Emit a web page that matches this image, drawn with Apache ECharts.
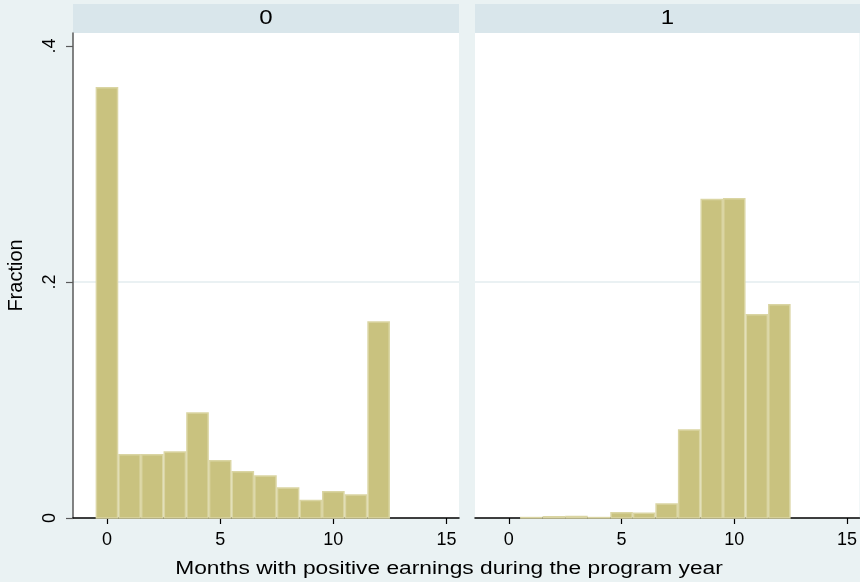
<!DOCTYPE html>
<html>
<head>
<meta charset="utf-8">
<script src="https://cdn.jsdelivr.net/npm/echarts@6/dist/echarts.min.js"></script>
<style>
  html, body { margin: 0; padding: 0; background: #EAF2F3; }
  #chart { width: 860px; height: 582px; }
</style>
</head>
<body>
<div id="chart"></div>
<script>
// Months with positive earnings (histogram bins, width 1, centred on each month)
const months = [0, 1, 2, 3, 4, 5, 6, 7, 8, 9, 10, 11, 12];
const panelNames = ['0', '1'];
// Fraction of people in each bin, per panel
const fraction0 = [0.3653, 0.0542, 0.0542, 0.0565, 0.0896, 0.0492, 0.0398, 0.0362, 0.0260, 0.0155, 0.0229, 0.0201, 0.1667];
const fraction1 = [0, 0.0010, 0.0017, 0.0020, 0.0010, 0.0051, 0.0046, 0.0125, 0.0752, 0.2706, 0.2712, 0.1729, 0.1814];
const xTicks = [0, 5, 10, 15];
const yTicks = [0, 0.2, 0.4];
const yTickLabels = ['0', '.2', '.4'];
const xTitle = 'Months with positive earnings during the program year';
const yTitle = 'Fraction';

const FONT = '"Liberation Sans", Arial, Helvetica, sans-serif';
const BAR_FILL = '#C9C27F';
const BAR_EDGE = '#DAD5A3';

const panels = [
  { left: 73, width: 386 },
  { left: 475, width: 385 }
];
const TOP = 33, BOTTOM_Y = 518, H = 582;

function yLabel(v) {
  const i = yTicks.findIndex(t => Math.abs(t - v) < 1e-9);
  return i >= 0 ? yTickLabels[i] : '';
}

// one histogram bar per bin, spanning [x - 0.5, x + 0.5]
function renderBar(params, api) {
  const x = api.value(0), y = api.value(1);
  if (!y) return null;
  const p0 = api.coord([x - 0.5, 0]);
  const p1 = api.coord([x + 0.5, y]);
  const lw = 1.5, h = lw / 2;
  return {
    type: 'rect',
    shape: { x: p0[0] + h, y: p1[1] + h, width: p1[0] - p0[0] - lw, height: p0[1] - p1[1] - h },
    style: { fill: BAR_FILL, stroke: BAR_EDGE, lineWidth: lw }
  };
}

const grids = panels.map(p => ({
  left: p.left, width: p.width, top: TOP, bottom: H - BOTTOM_Y,
  show: true, backgroundColor: '#ffffff', borderWidth: 0, containLabel: false
}));

const xAxes = panels.map((p, i) => ({
  gridIndex: i, type: 'value', min: -1.5, max: 15.55,
  axisLine: { show: true, onZero: false, lineStyle: { color: '#000', width: 1.5 } },
  axisTick: { show: true, length: 6, customValues: xTicks, lineStyle: { color: '#000', width: 1.2 } },
  axisLabel: { customValues: xTicks, fontSize: 18, color: '#000', fontFamily: FONT, margin: 13 },
  splitLine: { show: false }
}));

const yAxes = panels.map((p, i) => ({
  gridIndex: i, type: 'value', min: 0, max: 0.411, interval: 0.2,
  name: i === 0 ? yTitle : '',
  nameLocation: 'middle', nameGap: 47, nameRotate: 90,
  nameTextStyle: { fontSize: 20, color: '#000', fontFamily: FONT },
  axisLine: { show: i === 0, onZero: false, lineStyle: { color: '#5a5a5a', width: 1.5 } },
  axisTick: { show: i === 0, length: 7, customValues: yTicks, lineStyle: { color: '#5a5a5a', width: 1.2 } },
  axisLabel: { show: i === 0, customValues: yTicks, rotate: 90, fontSize: 18, color: '#000', fontFamily: FONT, margin: 14, formatter: yLabel },
  splitLine: { show: true, showMinLine: false, showMaxLine: false, lineStyle: { color: '#E3ECEF', width: 1.5 } }
}));

const series = [fraction0, fraction1].map((vals, i) => ({
  type: 'custom', xAxisIndex: i, yAxisIndex: i,
  renderItem: renderBar,
  data: months.map((m, k) => [m, vals[k]]),
  clip: false, silent: true
}));

const graphic = [];
panels.forEach((p, i) => {
  graphic.push({ type: 'rect', left: p.left, top: 4, shape: { width: p.width, height: TOP - 4 }, style: { fill: '#D9E6EB' }, silent: true });
  graphic.push({
    type: 'text', x: p.left + p.width / 2, y: 18.5, scaleX: 1.2,
    style: { text: panelNames[i], fontSize: 20, fontFamily: FONT, fill: '#000', align: 'center', verticalAlign: 'middle' },
    silent: true
  });
});
graphic.push({
  type: 'text', x: 449, y: 569.5, scaleX: 1.3,
  style: { text: xTitle, fontSize: 17.5, fontFamily: FONT, fill: '#000', align: 'center', verticalAlign: 'middle' },
  silent: true
});

const chart = echarts.init(document.getElementById('chart'), null, { renderer: 'canvas' });
chart.setOption({
  backgroundColor: '#EAF2F3',
  animation: false,
  grid: grids,
  xAxis: xAxes,
  yAxis: yAxes,
  series: series,
  graphic: graphic
});
</script>
</body>
</html>
